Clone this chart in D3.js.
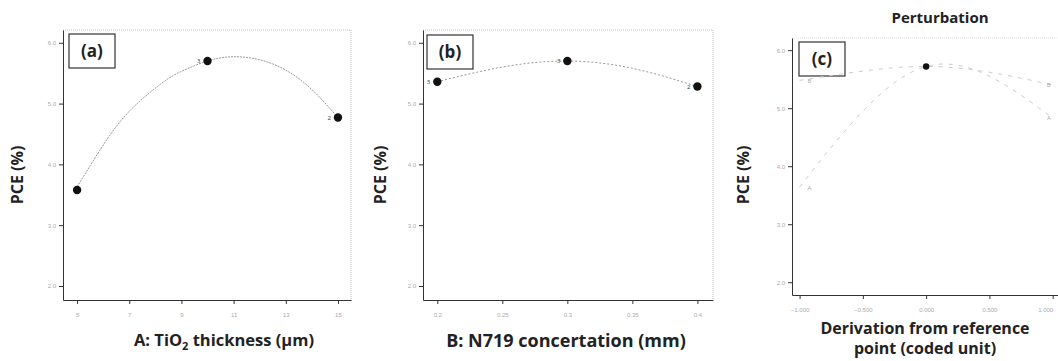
<!DOCTYPE html>
<html>
<head>
<meta charset="utf-8">
<script src="https://cdn.jsdelivr.net/npm/d3@7"></script>
<style>
  body { margin: 0; background: #fff; }
  svg { display: block; font-family: "Open Sans", "Noto Sans", sans-serif; }
  .axis path, .axis line { stroke: #333; }
  .axis text { fill: #aaa; font-size: 6px; }
  .title { font-weight: bold; fill: #222; }
</style>
</head>
<body>
<svg id="chart" width="1058" height="361"></svg>
<script>
// y ticks shared by all three panels (PCE %)
const pceTicks = [2, 3, 4, 5, 6];

// (a) TiO2 thickness
const thicknessTicks = [5, 7, 9, 11, 13, 15];
const thicknessPts = [5, 10, 15];
const thicknessPce = [3.58, 5.70, 4.77];
const thicknessCurveX = [5, 5.9, 6.95, 8.2, 8.95, 10, 11, 12, 13, 14, 15];
const thicknessCurveY = [3.63, 4.25, 4.85, 5.32, 5.52, 5.70, 5.77, 5.72, 5.55, 5.23, 4.77];
const thicknessReps = ['', '3', '2'];

// (b) N719 concentration
const dyeTicks = [0.2, 0.25, 0.3, 0.35, 0.4];
const dyePts = [0.2, 0.3, 0.4];
const dyePce = [5.36, 5.70, 5.28];
const dyeCurveX = [0.2, 0.25, 0.3, 0.35, 0.4];
const dyeCurveY = [5.36, 5.60, 5.70, 5.58, 5.28];
const dyeReps = ['3', '3', '2'];

// (c) perturbation, coded units
const codedTicks = [-1, -0.5, 0, 0.5, 1];
const codedX = [-1, -0.5, 0, 0.5, 1];
const pertA = [3.64, 4.95, 5.72, 5.55, 4.83];
const pertB = [5.48, 5.64, 5.72, 5.62, 5.40];
const refPoint = 5.72;

const svg = d3.select('#chart');

function panel(cfg) {
  const g = svg.append('g');
  const x = d3.scaleLinear().domain(cfg.xDomain).range(cfg.xRange);
  const y = d3.scaleLinear().domain(cfg.yDomain).range(cfg.yRange);
  const [x0, x1] = cfg.xRange;
  const [y0, y1] = cfg.yRange;

  // dotted top / right frame
  g.append('path')
    .attr('d', `M${x0},${y1}H${x1}V${y0}`)
    .attr('fill', 'none')
    .attr('stroke', cfg.frameColor || '#bbb')
    .attr('stroke-dasharray', '1,1');

  const xa = g.append('g')
    .attr('class', 'axis')
    .attr('transform', `translate(0,${y0})`)
    .call(d3.axisBottom(x).tickValues(cfg.xTicks).tickSize(4).tickSizeOuter(0).tickFormat(cfg.xFmt))
    .call(s => s.selectAll('text').attr('dy', '1.6em'));
  if (cfg.lastEnd) xa.selectAll('.tick:last-of-type text').attr('text-anchor', 'end');

  g.append('g')
    .attr('class', 'axis')
    .attr('transform', `translate(${x0},0)`)
    .call(d3.axisLeft(y).tickValues(pceTicks).tickSize(4).tickSizeOuter(0).tickFormat(d3.format('.1f')));

  // panel tag box
  g.append('rect')
    .attr('x', cfg.tag[0]).attr('y', cfg.tag[1])
    .attr('width', 46).attr('height', 34)
    .attr('fill', '#fff').attr('stroke', '#333').attr('stroke-width', 1.2);
  g.append('text')
    .attr('class', 'title')
    .attr('x', cfg.tag[0] + 23).attr('y', cfg.tag[1] + 23)
    .attr('text-anchor', 'middle')
    .style('font-size', '17px')
    .text(cfg.label);

  // y title
  g.append('text')
    .attr('class', 'title')
    .attr('transform', `translate(${cfg.yTitleX},175) rotate(-90)`)
    .attr('text-anchor', 'middle')
    .style('font-size', '16px')
    .text('PCE (%)');

  return { g, x, y };
}

const line = (x, y) => d3.line().x(d => x(d[0])).y(d => y(d[1])).curve(d3.curveNatural);

// ---------- (a)
{
  const { g, x, y } = panel({
    xDomain: [4.46, 15.5], xRange: [63, 351],
    yDomain: [1.77, 6.21], yRange: [300, 30],
    xTicks: thicknessTicks, xFmt: d3.format('d'),
    tag: [69, 34], label: '(a)', yTitleX: 23
  });
  g.append('path')
    .datum(thicknessCurveX.map((v, i) => [v, thicknessCurveY[i]]))
    .attr('d', line(x, y))
    .attr('fill', 'none').attr('stroke', '#999').attr('stroke-dasharray', '2,1');
  g.selectAll('.dot').data(thicknessPts).enter().append('circle')
    .attr('cx', d => x(d)).attr('cy', (d, i) => y(thicknessPce[i]))
    .attr('r', 4.2).attr('fill', '#111');
  g.selectAll('.rep').data(thicknessPts).enter().append('text')
    .attr('x', d => x(d) - 7).attr('y', (d, i) => y(thicknessPce[i]) + 2)
    .attr('text-anchor', 'end').style('font-size', '6px').attr('fill', '#333')
    .text((d, i) => thicknessReps[i]);
  const t = g.append('text').attr('class', 'title')
    .attr('x', 224).attr('y', 346).attr('text-anchor', 'middle').style('font-size', '16.5px');
  t.append('tspan').text('A: TiO');
  t.append('tspan').attr('dy', 4).style('font-size', '11px').text('2');
  t.append('tspan').attr('dy', -4).text(' thickness (μm)');
}

// ---------- (b)
{
  const { g, x, y } = panel({
    xDomain: [0.189, 0.412], xRange: [423, 713],
    yDomain: [1.77, 6.21], yRange: [300, 30],
    xTicks: dyeTicks, xFmt: d3.format('.2'),
    tag: [427, 35], label: '(b)', yTitleX: 386
  });
  g.append('path')
    .datum(dyeCurveX.map((v, i) => [v, dyeCurveY[i]]))
    .attr('d', line(x, y))
    .attr('fill', 'none').attr('stroke', '#999').attr('stroke-dasharray', '2,2');
  g.selectAll('.dot').data(dyePts).enter().append('circle')
    .attr('cx', d => x(d)).attr('cy', (d, i) => y(dyePce[i]))
    .attr('r', 4.2).attr('fill', '#111');
  g.selectAll('.rep').data(dyePts).enter().append('text')
    .attr('x', d => x(d) - 7).attr('y', (d, i) => y(dyePce[i]) + 2)
    .attr('text-anchor', 'end').style('font-size', '6px').attr('fill', '#333')
    .text((d, i) => dyeReps[i]);
  g.append('text').attr('class', 'title')
    .attr('x', 566).attr('y', 347).attr('text-anchor', 'middle').style('font-size', '18px')
    .text('B: N719 concertation (mm)');
}

// ---------- (c)
{
  const { g, x, y } = panel({
    xDomain: [-1.06, 1.05], xRange: [792, 1059],
    yDomain: [1.78, 6.21], yRange: [295, 38],
    xTicks: codedTicks, xFmt: d3.format('.3f'),
    tag: [799, 42], label: '(c)', yTitleX: 749,
    frameColor: '#ddd', lastEnd: true
  });
  [[pertA, 'A'], [pertB, 'B']].forEach(([vals, name]) => {
    g.append('path')
      .datum(codedX.map((v, i) => [v, vals[i]]))
      .attr('d', line(x, y))
      .attr('fill', 'none').attr('stroke', '#ccc').attr('stroke-dasharray', '4,6');
    g.append('text')
      .attr('x', x(codedX[0]) + 8).attr('y', y(vals[0]) + 3)
      .style('font-size', '6px').attr('fill', '#aaa').text(name);
    g.append('text')
      .attr('x', x(codedX[codedX.length - 1]) - 2).attr('y', y(vals[vals.length - 1]) + 2)
      .attr('text-anchor', 'end')
      .style('font-size', '6px').attr('fill', '#aaa').text(name);
  });
  g.append('circle')
    .attr('cx', x(0)).attr('cy', y(refPoint))
    .attr('r', 3.2).attr('fill', '#111');
  g.append('text').attr('class', 'title')
    .attr('x', 940).attr('y', 23).attr('text-anchor', 'middle').style('font-size', '15px')
    .text('Perturbation');
  g.append('text').attr('class', 'title')
    .attr('x', 925).attr('y', 334).attr('text-anchor', 'middle').style('font-size', '16px')
    .text('Derivation from reference');
  g.append('text').attr('class', 'title')
    .attr('x', 925).attr('y', 354).attr('text-anchor', 'middle').style('font-size', '16px')
    .text('point  (coded unit)');
}
</script>
</body>
</html>
